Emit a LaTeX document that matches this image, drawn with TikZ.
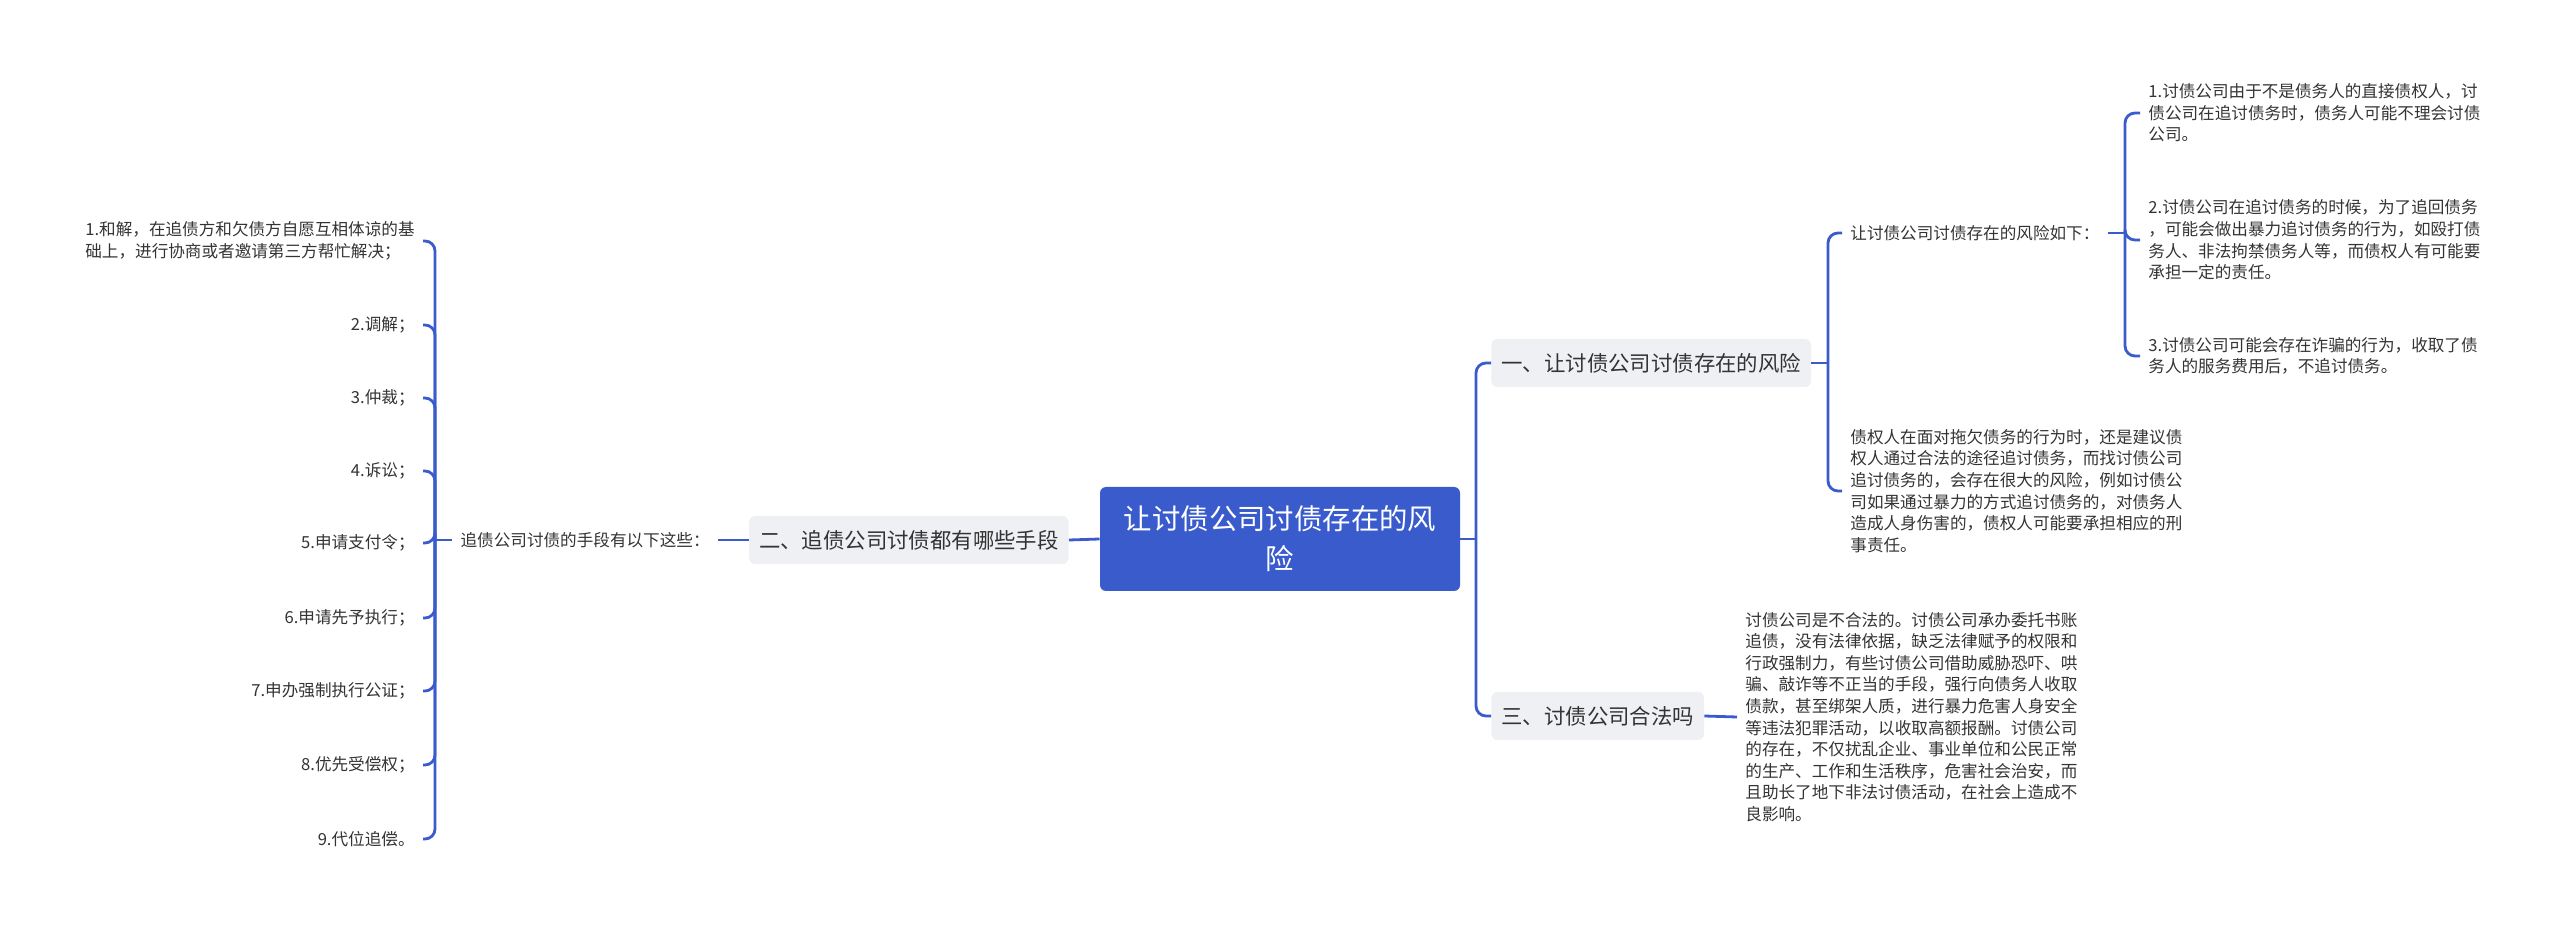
\documentclass[tikz,border=0pt]{standalone}
\usepackage{fontspec}
\setmainfont{Noto Sans CJK SC}
\usetikzlibrary{positioning}
\definecolor{mainblue}{HTML}{3A5BCC}
\definecolor{topicgray}{HTML}{EEF0F4}
\definecolor{txtgray}{HTML}{333333}

\begin{document}
\begin{tikzpicture}[x=0.5pt, y=-0.5pt,
  root/.style={fill=mainblue, text=white, rounded corners=3pt, minimum width=180pt, minimum height=52pt, align=center, font=\fontsize{14.2pt}{20pt}\selectfont},
  topic/.style={fill=topicgray, text=txtgray, rounded corners=3pt, minimum height=24pt, inner xsep=5pt, font=\fontsize{10.7pt}{13pt}\selectfont},
  leaf/.style={text=txtgray, inner xsep=4pt, inner ysep=0pt, align=left, font=\fontsize{8.3pt}{10.8pt}\selectfont},
  link/.style={draw=mainblue, line width=1.4pt},
  elbow/.style={link, rounded corners=5pt}
]
  \useasboundingbox (0,0) rectangle (2560,929);

  \node[root] (root) at (1280,539) {让讨债公司讨债存在的风\\险};
  \node[topic, anchor=west] (riskTopic)  at (1491,363) {一、让讨债公司讨债存在的风险};
  \node[topic, anchor=east] (meansTopic) at (1069,540) {二、追债公司讨债都有哪些手段};
  \node[topic, anchor=west] (legalTopic) at (1491,716) {三、讨债公司合法吗};

  \node[leaf, anchor=east] (meansLead) at (718,540) {追债公司讨债的手段有以下这些：};
  \node[leaf, anchor=east] (m1) at (423,241) {1.和解，在追债方和欠债方自愿互相体谅的基\\础上，进行协商或者邀请第三方帮忙解决；};
  \node[leaf, anchor=east] (m2) at (423,325) {2.调解；};
  \node[leaf, anchor=east] (m3) at (423,398) {3.仲裁；};
  \node[leaf, anchor=east] (m4) at (423,471) {4.诉讼；};
  \node[leaf, anchor=east] (m5) at (423,543) {5.申请支付令；};
  \node[leaf, anchor=east] (m6) at (423,618) {6.申请先予执行；};
  \node[leaf, anchor=east] (m7) at (423,691) {7.申办强制执行公证；};
  \node[leaf, anchor=east] (m8) at (423,765) {8.优先受偿权；};
  \node[leaf, anchor=east] (m9) at (423,839) {9.代位追偿。};

  \node[leaf, anchor=west] (riskLead) at (1842,233) {让讨债公司讨债存在的风险如下：};
  \node[leaf, anchor=west] (riskNote) at (1842,491) {债权人在面对拖欠债务的行为时，还是建议债\\权人通过合法的途径追讨债务，而找讨债公司\\追讨债务的，会存在很大的风险，例如讨债公\\司如果通过暴力的方式追讨债务的，对债务人\\造成人身伤害的，债权人可能要承担相应的刑\\事责任。};
  \node[leaf, anchor=west] (r1) at (2140,113) {1.讨债公司由于不是债务人的直接债权人，讨\\债公司在追讨债务时，债务人可能不理会讨债\\公司。};
  \node[leaf, anchor=west] (r2) at (2140,240) {2.讨债公司在追讨债务的时候，为了追回债务\\，可能会做出暴力追讨债务的行为，如殴打债\\务人、非法拘禁债务人等，而债权人有可能要\\承担一定的责任。};
  \node[leaf, anchor=west] (r3) at (2140,356) {3.讨债公司可能会存在诈骗的行为，收取了债\\务人的服务费用后，不追讨债务。};

  \node[leaf, anchor=west] (legalNote) at (1737,717) {讨债公司是不合法的。讨债公司承办委托书账\\追债，没有法律依据，缺乏法律赋予的权限和\\行政强制力，有些讨债公司借助威胁恐吓、哄\\骗、敲诈等不正当的手段，强行向债务人收取\\债款，甚至绑架人质，进行暴力危害人身安全\\等违法犯罪活动，以收取高额报酬。讨债公司\\的存在，不仅扰乱企业、事业单位和公民正常\\的生产、工作和生活秩序，危害社会治安，而\\且助长了地下非法讨债活动，在社会上造成不\\良影响。};

  \coordinate (rootFork)  at (1476,539);
  \coordinate (riskFork)  at (1828,363);
  \coordinate (leadFork)  at (2125,233);
  \coordinate (meansFork) at (435,540);

  \draw[link] (root.west) -- (meansTopic.east);
  \draw[link] (root.east) -- (rootFork);
  \draw[elbow] (rootFork) |- (riskTopic.west);
  \draw[elbow] (rootFork) |- (legalTopic.west);
  \draw[link] (legalTopic.east) -- (legalNote.west);

  \draw[link] (riskTopic.east) -- (riskFork);
  \draw[elbow] (riskFork) |- (riskLead.west);
  \draw[elbow] (riskFork) |- (riskNote.west);
  \draw[link] (riskLead.east) -- (leadFork);
  \draw[elbow] (leadFork) |- (r1.west);
  \draw[elbow] (leadFork) |- (r2.west);
  \draw[elbow] (leadFork) |- (r3.west);

  \draw[link] (meansTopic.west) -- (meansLead.east);
  \draw[link] (meansLead.west) -- (meansFork);
  \draw[elbow] (meansFork) |- (m1.east);
  \draw[elbow] (meansFork) |- (m2.east);
  \draw[elbow] (meansFork) |- (m3.east);
  \draw[elbow] (meansFork) |- (m4.east);
  \draw[elbow] (meansFork) |- (m5.east);
  \draw[elbow] (meansFork) |- (m6.east);
  \draw[elbow] (meansFork) |- (m7.east);
  \draw[elbow] (meansFork) |- (m8.east);
  \draw[elbow] (meansFork) |- (m9.east);
\end{tikzpicture}
\end{document}
